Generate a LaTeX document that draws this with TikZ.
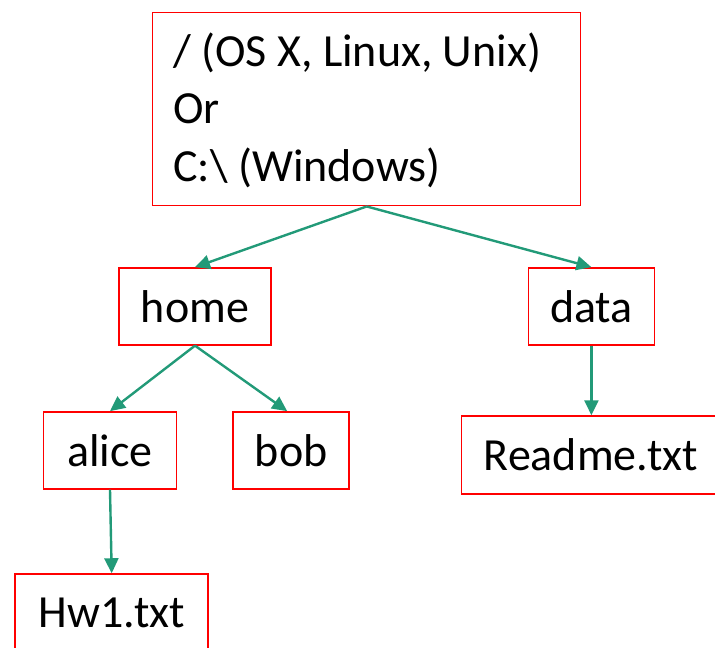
\documentclass[tikz,border=0pt]{standalone}
\usepackage{fontspec}
\setmainfont{Carlito}
\usetikzlibrary{arrows.meta}
\definecolor{boxred}{RGB}{255,0,0}
\definecolor{linkgreen}{RGB}{34,154,120}
\begin{document}
\begin{tikzpicture}[x=1pt,y=-1pt,
  box/.style={draw=boxred,line width=1.5pt,rectangle,inner sep=0pt,font=\fontsize{46}{55}\selectfont},
  roottext/.style={inner sep=0pt,anchor=base west,font=\fontsize{46}{55}\selectfont},
  link/.style={draw=linkgreen,line width=2.4pt,-{Triangle[length=15pt,width=14pt]}}]
\useasboundingbox (0,0) rectangle (715,648);
\node[box,minimum width=428pt,minimum height=193pt] (root) at (366.7,109.2) {};
\node[roottext] (r1) at (173,66.7) {/ (OS X, Linux, Unix)};
\node[roottext] (r2) at (173,123.3) {Or};
\node[roottext] (r3) at (173,181.7) {C:\textbackslash{} (Windows)};
\node[box,minimum width=152pt,minimum height=77pt] (home) at (195,306.4) {home};
\node[box,minimum width=126pt,minimum height=77pt] (data) at (591.4,306.4) {data};
\node[box,minimum width=133pt,minimum height=77pt] (alice) at (110,450.4) {alice};
\node[box,minimum width=116pt,minimum height=77pt] (bob) at (291.2,450.4) {bob};
\node[box,minimum width=259pt,minimum height=78pt] (readme) at (591,455) {Readme.txt};
\node[box,minimum width=193pt,minimum height=77pt] (hw1) at (111.7,612.5) {Hw1.txt};
\draw[link] (root.south) -- (home.north);
\draw[link] (root.south) -- (data.north);
\draw[link] (home.south) -- (alice.north);
\draw[link] (home.south) -- ([xshift=-4pt]bob.north);
\draw[link] (data.south) -- (data.south |- readme.north);
\draw[link] (alice.south) -- (hw1.north);
\end{tikzpicture}
\end{document}
